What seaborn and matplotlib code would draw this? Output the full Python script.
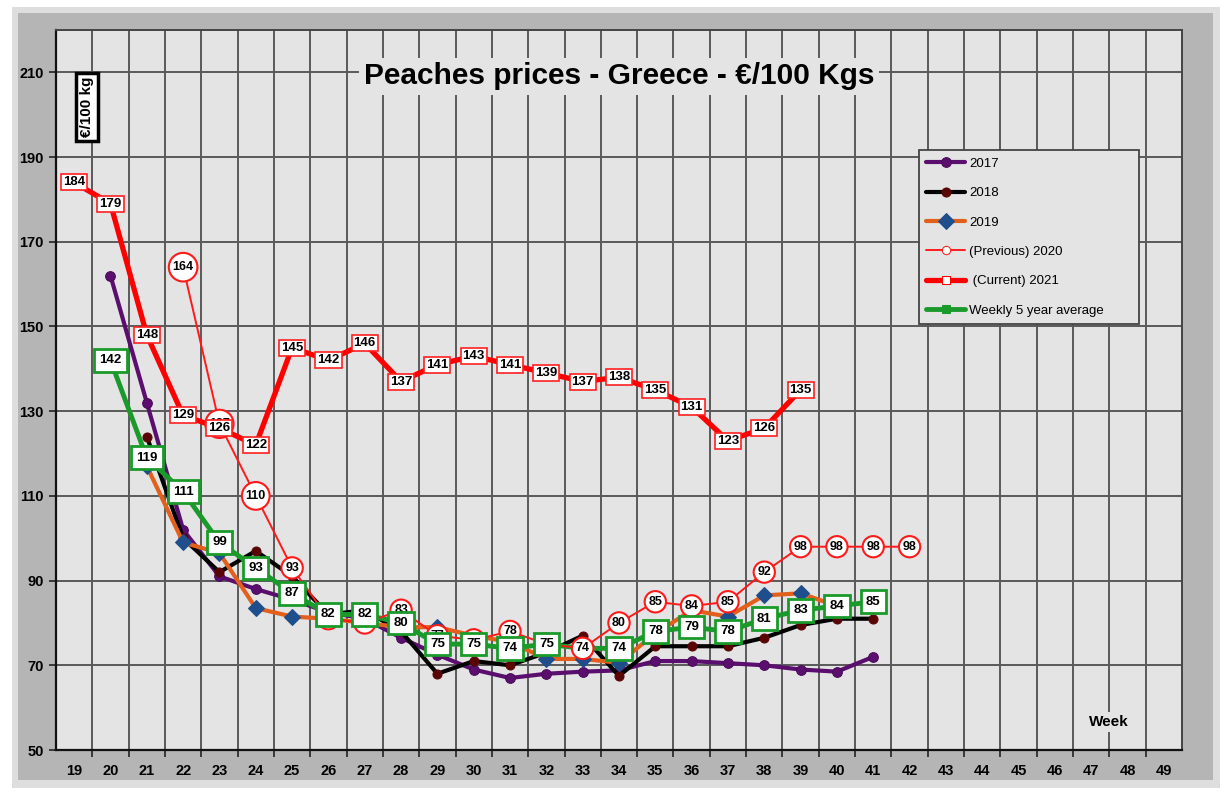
import matplotlib
matplotlib.use("Agg")
import matplotlib.pyplot as plt
import matplotlib.patches as mpatches
import seaborn as sns

# weekly prices, €/100 kg
weeks_2017 = list(range(20, 42))
price_2017 = [162, 132, 102, 91, 88, 85.5, 82.5, 81, 76.5, 72.5, 69, 67, 68, 68.5, 68.8,
              71, 71, 70.5, 70, 69, 68.5, 72]

weeks_2018 = list(range(21, 42))
price_2018 = [124, 100, 92, 97, 91, 82, 83, 78, 68, 71, 70, 73, 77, 67.5, 74.5, 74.5, 74.5,
              76.5, 79.5, 81, 81]

weeks_2019 = list(range(21, 41))
price_2019 = [117, 99, 96.5, 83.5, 81.5, 81, 80, 79, 79, 77, 75.5, 71.5, 71.5, 70.6, 77.5,
              83, 81.5, 86.5, 87, 84]

weeks_2020 = list(range(22, 43))
price_2020 = [164, 127, 110, 93, 81, 80, 83, 77, 76, 78, 75, 74, 80, 85, 84, 85, 92, 98,
              98, 98, 98]

weeks_2021 = list(range(19, 40))
price_2021 = [184, 179, 148, 129, 126, 122, 145, 142, 146, 137, 141, 143, 141, 139, 137,
              138, 135, 131, 123, 126, 135]

weeks_avg = list(range(20, 42))
price_avg = [142, 119, 111, 99, 93, 87, 82, 82, 80, 75, 75, 74, 75, 74, 74, 78, 79, 78,
             81, 83, 84, 85]

week_ticks = list(range(19, 50))
price_ticks = list(range(50, 211, 20))

sns.set_style("white")
plt.rcParams['font.family'] = ['Liberation Sans', 'DejaVu Sans']
plt.rcParams['text.color'] = 'black'

fig = plt.figure(figsize=(12.24, 7.94), dpi=100)
fig.patch.set_facecolor('white')
W, H = 1224, 794
# light outer border + gray frame around the plot
fig.patches.append(mpatches.Rectangle((12 / W, 1 - 788 / H), 1208 / W, 781 / H,
                                      transform=fig.transFigure, facecolor='#dedede',
                                      edgecolor='none', zorder=-10))
fig.patches.append(mpatches.Rectangle((18 / W, 1 - 780 / H), 1195 / W, 767 / H,
                                      transform=fig.transFigure, facecolor='#b5b5b5',
                                      edgecolor='none', zorder=-9))

ax = fig.add_axes([56 / W, 1 - 750 / H, 1126 / W, 720 / H])
ax.set_zorder(1)
ax.set_facecolor('#e4e4e4')

sns.lineplot(x=weeks_2017, y=price_2017, ax=ax, color='#5a0f6e', lw=3, marker='o',
             markersize=7, markeredgecolor='#4a0a5a', label='2017', zorder=3)
sns.lineplot(x=weeks_2018, y=price_2018, ax=ax, color='black', lw=3, marker='o',
             markersize=6.5, markerfacecolor='#5a0505', markeredgecolor='#5a0505',
             label='2018', zorder=3.1)
sns.lineplot(x=weeks_2019, y=price_2019, ax=ax, color='#e2601c', lw=3, marker='D',
             markersize=8, markerfacecolor='#1f4e8c', markeredgecolor='#1f4e8c',
             label='2019', zorder=3.2)
sns.lineplot(x=weeks_2020, y=price_2020, ax=ax, color='#ff1a1a', lw=1.4, marker='o',
             markersize=6, markerfacecolor='white', markeredgecolor='#ff1a1a',
             label='(Previous) 2020', zorder=3.4)
sns.lineplot(x=weeks_2021, y=price_2021, ax=ax, color='#ff0000', lw=3.8, marker='s',
             markersize=6, markerfacecolor='white', markeredgecolor='#ff0000',
             label=' (Current) 2021', zorder=3.6)
sns.lineplot(x=weeks_avg, y=price_avg, ax=ax, color='#1a9a2a', lw=3.5, marker='s',
             markersize=6, markerfacecolor='#1a9a2a', markeredgecolor='#1a9a2a',
             label='Weekly 5 year average', zorder=3.3)

# value labels
for w, v in zip(weeks_2020, price_2020):
    ax.text(w, v, f"{v:g}", ha='center', va='center', fontsize=9, fontweight='bold',
            zorder=5, bbox=dict(boxstyle='circle,pad=0.3', fc='white', ec='#ff1a1a', lw=1.5))
for w, v in zip(weeks_avg, price_avg):
    if w == 33:  # no label shown for this week in the original
        continue
    ax.text(w, v, f"{v:g}", ha='center', va='center', fontsize=9.5, fontweight='bold',
            zorder=6, bbox=dict(boxstyle='square,pad=0.4', fc='white', ec='#1a9a2a', lw=2))
for w, v in zip(weeks_2021, price_2021):
    ax.text(w, v, f"{v:g}", ha='center', va='center', fontsize=9.5, fontweight='bold',
            zorder=7, bbox=dict(boxstyle='square,pad=0.15', fc='white', ec='#ff2020', lw=1.2))

# axes, ticks, grid
ax.set_xlim(18.5, 49.5)
ax.set_ylim(50, 220)
ax.set_xticks(week_ticks)
ax.set_xticks([w + 0.5 for w in week_ticks[:-1]], minor=True)
ax.set_yticks(price_ticks)
ax.tick_params(axis='x', which='major', length=0, pad=10, labelsize=10.5, labelcolor='black')
ax.tick_params(axis='x', which='minor', length=5, width=1.2, color='#222', direction='out',
               bottom=True)
ax.tick_params(axis='y', length=5, width=1.2, color='#222', pad=4, labelsize=10.5,
               labelcolor='black', left=True)
for lab in ax.get_xticklabels() + ax.get_yticklabels():
    lab.set_fontweight('bold')
ax.grid(which='minor', axis='x', color='#5a5a5a', lw=1.4, ls='-')
ax.grid(which='major', axis='y', color='#5a5a5a', lw=1.4, ls='-')
ax.grid(which='major', axis='x', visible=False)
for side in ['left', 'bottom']:
    ax.spines[side].set_color('#111')
    ax.spines[side].set_linewidth(1.6)
for side in ['top', 'right']:
    ax.spines[side].set_color('#444')
    ax.spines[side].set_linewidth(1.4)
ax.set_xlabel('')
ax.set_ylabel('')

# title and captions
ax.text(0.5, 0.936, "Peaches prices - Greece - €/100 Kgs", transform=ax.transAxes,
        ha='center', va='center', fontsize=21.5, fontweight='bold', color='black', zorder=8,
        bbox=dict(boxstyle='square,pad=0.15', fc='#e4e4e4', ec='none'))
ax.text(0.0276, 0.893, "€/100 kg", transform=ax.transAxes, rotation=90,
        ha='center', va='center', fontsize=11, fontweight='bold', color='black', zorder=8,
        bbox=dict(boxstyle='square,pad=0.25', fc='white', ec='black', lw=2.5))
ax.text(0.935, 0.039, "Week", transform=ax.transAxes, ha='center', va='center',
        fontsize=11, fontweight='bold', color='black', zorder=8,
        bbox=dict(boxstyle='square,pad=0.2', fc='#e4e4e4', ec='none'))

leg = ax.legend(loc='upper left', bbox_to_anchor=(0.766, 0.59, 0.196, 0.243), mode='expand',
                frameon=True, fancybox=False, edgecolor='#444', facecolor='#e4e4e4',
                framealpha=1, handlelength=3.0, handletextpad=0.3, labelspacing=1.3,
                borderpad=0.55, borderaxespad=0, fontsize=9.5)
leg.get_frame().set_linewidth(1.3)
leg.set_zorder(9)
for t in leg.get_texts():
    t.set_color('black')

fig.savefig('out.png', dpi=100)
